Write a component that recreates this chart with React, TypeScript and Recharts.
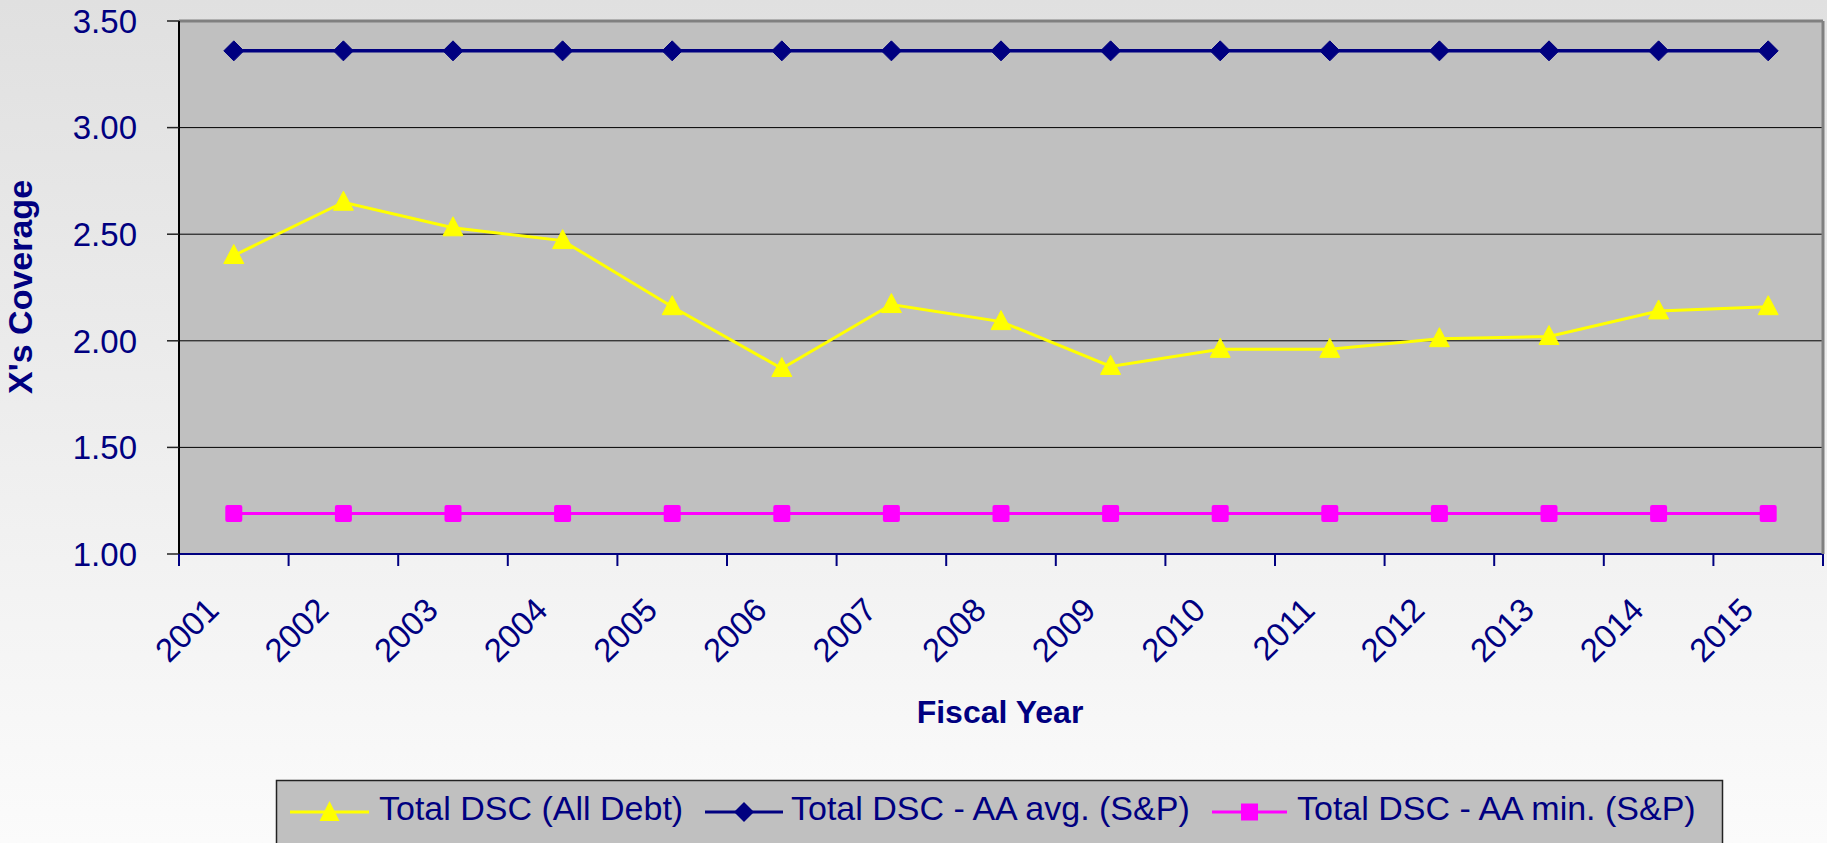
import React from 'react';
import { LineChart, Line, XAxis, YAxis, CartesianGrid, ReferenceLine, Label } from 'recharts';

const years = ['2001', '2002', '2003', '2004', '2005', '2006', '2007', '2008', '2009', '2010', '2011', '2012', '2013', '2014', '2015'];
const totalDsc = [2.4, 2.65, 2.53, 2.47, 2.16, 1.87, 2.17, 2.09, 1.88, 1.96, 1.96, 2.01, 2.02, 2.14, 2.16];
const aaAvg = [3.36, 3.36, 3.36, 3.36, 3.36, 3.36, 3.36, 3.36, 3.36, 3.36, 3.36, 3.36, 3.36, 3.36, 3.36];
const aaMin = [1.19, 1.19, 1.19, 1.19, 1.19, 1.19, 1.19, 1.19, 1.19, 1.19, 1.19, 1.19, 1.19, 1.19, 1.19];
const yTicks = [1, 1.5, 2, 2.5, 3, 3.5];
const seriesNames = ['Total DSC (All Debt)', 'Total DSC - AA avg. (S&P)', 'Total DSC - AA min. (S&P)'];
const xTitle = 'Fiscal Year';
const yTitle = "X's Coverage";

const data = years.map((y, i) => ({ year: y, total: totalDsc[i], avg: aaAvg[i], min: aaMin[i] }));

const W = 1827;
const H = 843;
const Y_AXIS_W = 179;
const R_AXIS_W = 4;
const PLOT_W = W - Y_AXIS_W - R_AXIS_W;
const BW = PLOT_W / years.length;
const NAVY = '#000080';
const YELLOW = '#ffff00';
const MAGENTA = '#ff00ff';
const FONT = '"Liberation Sans", Arial, sans-serif';

const Triangle = (props: any) => {
  const { cx, cy, index } = props;
  if (cx == null || cy == null) return <g key={index} />;
  return <polygon key={index} points={`${cx},${cy - 11} ${cx - 10},${cy + 8} ${cx + 10},${cy + 8}`} fill={YELLOW} stroke={YELLOW} />;
};
const Diamond = (props: any) => {
  const { cx, cy, index } = props;
  if (cx == null || cy == null) return <g key={index} />;
  return <polygon key={index} points={`${cx},${cy - 10} ${cx + 10},${cy} ${cx},${cy + 10} ${cx - 10},${cy}`} fill={NAVY} stroke={NAVY} />;
};
const Square = (props: any) => {
  const { cx, cy, index } = props;
  if (cx == null || cy == null) return <g key={index} />;
  return <rect key={index} x={cx - 8.5} y={cy - 8.5} width={17} height={17} rx={2} fill={MAGENTA} />;
};

const XTick = (props: any) => {
  const { x, y, payload, index } = props;
  const last = index === years.length - 1;
  const ax = x - 13;
  const ay = y + 58;
  return (
    <g>
      <line x1={x - BW / 2} x2={x - BW / 2} y1={y} y2={y + 12} stroke={NAVY} strokeWidth={2} />
      {last && <line x1={x + BW / 2} x2={x + BW / 2} y1={y} y2={y + 12} stroke={NAVY} strokeWidth={2} />}
      <text x={ax} y={ay} transform={`rotate(-45 ${ax} ${ay})`} textAnchor="end" fill={NAVY} fontSize={33} fontFamily={FONT}>
        {payload.value}
      </text>
    </g>
  );
};

const LegendBox = () => {
  const items = [
    { x0: 290, x1: 369, tx: 379, color: YELLOW, kind: 'tri' },
    { x0: 705, x1: 783, tx: 791, color: NAVY, kind: 'dia' },
    { x0: 1212, x1: 1287, tx: 1297, color: MAGENTA, kind: 'sq' },
  ];
  const ly = 812;
  return (
    <svg width={W} height={H} style={{ position: 'absolute', left: 0, top: 0, pointerEvents: 'none' }}>
      <rect x={276.5} y={780.5} width={1446} height={80} fill="#c0c0c0" stroke="#222" strokeWidth={1.5} />
      {items.map((it, i) => {
        const cx = (it.x0 + it.x1) / 2;
        return (
          <g key={i}>
            <line x1={it.x0} x2={it.x1} y1={ly} y2={ly} stroke={it.color} strokeWidth={3} />
            {it.kind === 'tri' && <polygon points={`${cx},${ly - 11} ${cx - 10},${ly + 9} ${cx + 10},${ly + 9}`} fill={YELLOW} />}
            {it.kind === 'dia' && <polygon points={`${cx},${ly - 10} ${cx + 10},${ly} ${cx},${ly + 10} ${cx - 10},${ly}`} fill={NAVY} />}
            {it.kind === 'sq' && <rect x={cx - 8.5} y={ly - 8.5} width={17} height={17} fill={MAGENTA} />}
            <text x={it.tx} y={ly + 8} fill={NAVY} fontSize={34} fontFamily={FONT}>{seriesNames[i]}</text>
          </g>
        );
      })}
    </svg>
  );
};

export default function App() {
  return (
    <div style={{ position: 'absolute', left: 0, top: 0, width: W, height: H, background: 'linear-gradient(to bottom, #e0e0e0, #fbfbfb)', fontFamily: FONT, overflow: 'hidden' }}>
      <LineChart width={W} height={H} data={data} margin={{ top: 21, right: 0, left: 0, bottom: 189 }}>
        <CartesianGrid vertical={false} horizontal={true} stroke="#000" strokeWidth={1} fill="#c0c0c0" fillOpacity={1} />
        <XAxis
          dataKey="year"
          interval={0}
          height={100}
          padding={{ left: BW / 2, right: BW / 2 }}
          axisLine={{ stroke: NAVY, strokeWidth: 2 }}
          tickLine={false}
          tickSize={0}
          tickMargin={0}
          tick={<XTick />}
        >
          <Label
            content={() => (
              <text x={1000} y={723} textAnchor="middle" fill={NAVY} fontSize={32} fontWeight="bold" fontFamily={FONT}>{xTitle}</text>
            )}
          />
        </XAxis>
        <YAxis
          width={Y_AXIS_W}
          domain={[1, 3.5]}
          ticks={yTicks}
          interval={0}
          tickFormatter={(v: number) => v.toFixed(2)}
          axisLine={{ stroke: '#000', strokeWidth: 2 }}
          tickLine={{ stroke: '#222', strokeWidth: 1.5 }}
          tickSize={12}
          tickMargin={30}
          tick={{ fill: NAVY, fontSize: 33, fontFamily: FONT }}
        >
          <Label
            content={() => (
              <text x={32} y={287} transform="rotate(-90 32 287)" textAnchor="middle" fill={NAVY} fontSize={34} fontWeight="bold" fontFamily={FONT}>{yTitle}</text>
            )}
          />
        </YAxis>
        <YAxis
          yAxisId="r"
          orientation="right"
          width={R_AXIS_W}
          domain={[1, 3.5]}
          type="number"
          tick={false}
          tickLine={false}
          axisLine={{ stroke: '#808080', strokeWidth: 3 }}
        />
        <ReferenceLine y={3.5} stroke="#808080" strokeWidth={3} />
        <Line dataKey="total" stroke={YELLOW} strokeWidth={3} dot={Triangle} isAnimationActive={false} />
        <Line dataKey="avg" stroke={NAVY} strokeWidth={3.5} dot={Diamond} isAnimationActive={false} />
        <Line dataKey="min" stroke={MAGENTA} strokeWidth={3} dot={Square} isAnimationActive={false} />
      </LineChart>
      <LegendBox />
    </div>
  );
}
